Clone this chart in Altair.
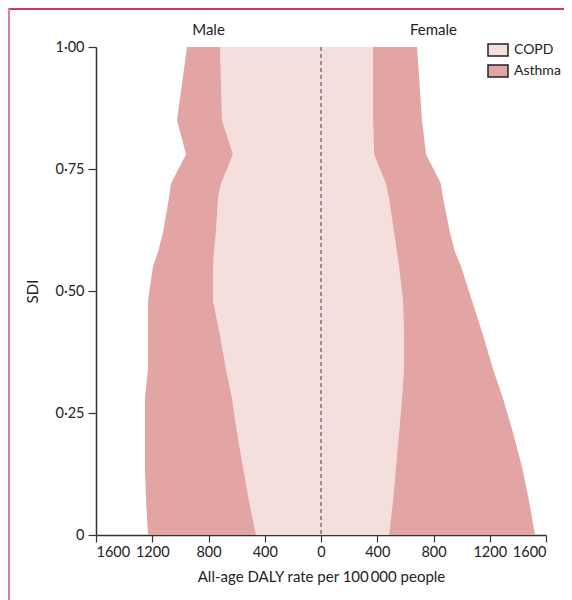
import altair as alt
import pandas as pd

# SDI levels (y) and DALY rates per 100 000 (x)
sdi = [1.0, 0.85, 0.78, 0.72, 0.69, 0.62, 0.58, 0.55, 0.48, 0.41, 0.34, 0.28, 0.21, 0.14, 0.07, 0.0]
male_copd = [718, 704, 626, 711, 732, 747, 761, 768, 768, 718, 676, 633, 597, 555, 512, 462]
male_asthma = [235, 320, 334, 356, 349, 377, 398, 427, 462, 512, 554, 619, 655, 697, 732, 768]
female_copd = [370, 370, 377, 462, 484, 519, 540, 555, 583, 590, 590, 576, 555, 533, 512, 484]
female_asthma = [313, 348, 370, 391, 384, 398, 413, 441, 491, 562, 633, 718, 810, 896, 967, 1038]

causes = ["COPD", "Asthma"]
colors = ["#f4dfdc", "#e2a5a3"]
x_ticks = [-1600, -1200, -800, -400, 0, 400, 800, 1200, 1600]
y_ticks = [0, 0.25, 0.5, 0.75, 1.0]
sex_labels = ["Male", "Female"]
sex_label_x = [-800, 800]

rows = []
for sex, sign, copd, asth in [("Male", -1, male_copd, male_asthma),
                              ("Female", 1, female_copd, female_asthma)]:
    for s, c, a in zip(sdi, copd, asth):
        rows.append(dict(sex=sex, cause="COPD", sdi=s, lo=0, hi=sign * c, order=0))
        rows.append(dict(sex=sex, cause="Asthma", sdi=s, lo=sign * c, hi=sign * (c + a), order=1))
df = pd.DataFrame(rows)

FONT = "Lato"

xscale = alt.Scale(domain=[-1600, 1600], nice=False, zero=False)
yscale = alt.Scale(domain=[0, 1], nice=False)

areas = alt.Chart(df).mark_area(orient="horizontal", interpolate="linear", strokeWidth=0).encode(
    y=alt.Y("sdi:Q", scale=yscale,
            axis=alt.Axis(values=y_ticks, title="SDI", tickSize=8, labelPadding=4,
                          titlePadding=14,
                          labelExpr="datum.value == 0 ? '0' : replace(format(datum.value, '.2f'), '.', '·')")),
    x=alt.X("lo:Q", scale=xscale,
            axis=alt.Axis(values=x_ticks, title="All-age DALY rate per 100\u2009000 people",
                          tickSize=7, labelPadding=3, titlePadding=11,
                          labelExpr="format(abs(datum.value), 'd')")),
    x2="hi:Q",
    color=alt.Color("cause:N", scale=alt.Scale(domain=causes, range=colors),
                    legend=alt.Legend(title=None, orient="none", legendX=391, legendY=-8,
                                      symbolType="M-1,-0.6H1V0.6H-1Z", symbolSize=400,
                                      symbolStrokeColor="#222", symbolStrokeWidth=1.5,
                                      symbolOpacity=1, labelFontSize=14, labelFont=FONT,
                                      labelColor="#222", rowPadding=1, padding=0,
                                      labelOffset=5)),
    detail="sex:N",
    order="order:Q",
)

zero_df = pd.DataFrame({"x": [0]})
zero_line = alt.Chart(zero_df).mark_rule(color="#777", strokeDash=[4, 3], strokeWidth=1.5).encode(
    x=alt.X("x:Q", scale=xscale)
)

lab_df = pd.DataFrame({"label": sex_labels, "x": sex_label_x})
labels = alt.Chart(lab_df).mark_text(font=FONT, fontSize=15, color="#222", baseline="middle").encode(
    x=alt.X("x:Q", scale=xscale),
    y=alt.value(-17),
    text="label:N",
)

one = pd.DataFrame({"a": [0]})
frame_top = alt.Chart(one).mark_rule(color="#d4345f", strokeWidth=2).encode(
    x=alt.value(-88), x2=alt.value(468), y=alt.value(-38)
)
frame_left = alt.Chart(one).mark_rule(color="#e07a9a", strokeWidth=2).encode(
    x=alt.value(-87), y=alt.value(-39), y2=alt.value(570)
)

chart = alt.layer(areas, zero_line, labels, frame_top, frame_left).properties(
    width=450, height=488,
    autosize=alt.AutoSizeParams(type="none"),
    padding={"left": 88, "top": 39, "right": 18, "bottom": 65},
).configure_view(stroke=None).configure_axis(
    domainColor="#333", domainWidth=1.5, tickColor="#333", tickWidth=1.2,
    labelFont=FONT, labelFontSize=14.5, labelColor="#222",
    titleFont=FONT, titleFontSize=15, titleColor="#222", titleFontWeight="normal",
    grid=False,
)

chart.save("out.html", embed_options={"renderer": "svg", "actions": False})
